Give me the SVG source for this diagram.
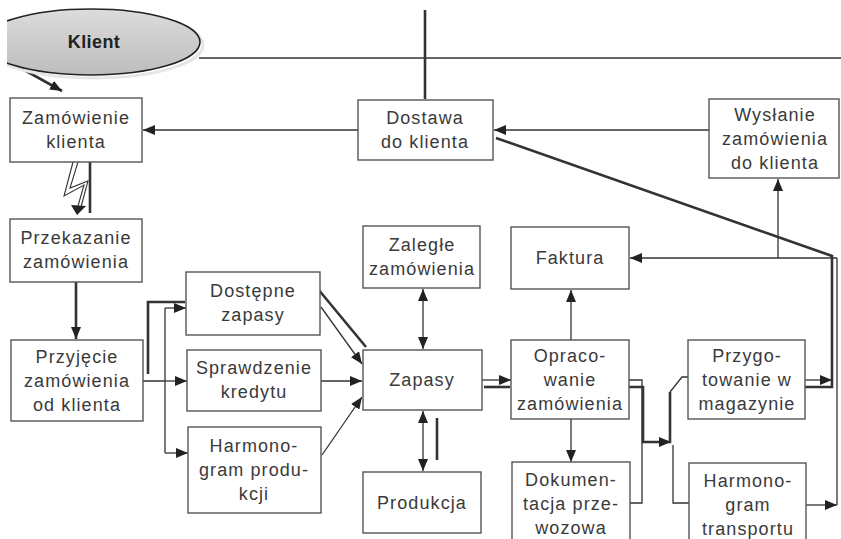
<svg xmlns="http://www.w3.org/2000/svg" width="841" height="539" viewBox="0 0 841 539">
<style>
.box{fill:#fff;stroke:#555;stroke-width:1.4}
.t{font-family:"Liberation Sans",Arial,sans-serif;font-size:18px;letter-spacing:1.1px;fill:#3a3a3a;text-anchor:middle}
.kt{font-family:"Liberation Sans",Arial,sans-serif;font-size:18px;font-weight:bold;letter-spacing:0.4px;fill:#222;text-anchor:middle}
.ln{fill:none;stroke:#333;stroke-width:1.3}
.th{fill:none;stroke:#333;stroke-width:2.6}
.a{marker-end:url(#arr)}
.d{marker-start:url(#arr);marker-end:url(#arr)}
</style>
<defs>
<marker id="arr" markerUnits="userSpaceOnUse" markerWidth="12" markerHeight="10" refX="12" refY="5" orient="auto-start-reverse">
<path d="M0,0 L12,5 L0,10 z" fill="#222"/>
</marker>
<linearGradient id="kg" x1="0" y1="0" x2="0" y2="1">
<stop offset="0" stop-color="#dcdcdc"/>
<stop offset="1" stop-color="#bdbdbd"/>
</linearGradient>
<clipPath id="kc"><rect x="7" y="0" width="300" height="120"/></clipPath>
</defs>

<g id="connectors">
<path class="ln" d="M199,58 H841"/>
<path class="th" d="M425,10 V99"/>
<path class="th a" d="M10,62 L62,91"/>
<path class="ln a" d="M358,130 H143"/>
<path class="ln a" d="M709,130 H494"/>
<path class="th" d="M496,138 L832,256 V387 H797"/>
<path class="ln a" d="M805,380 H832"/>
<path class="ln" d="M837,258 V505"/>
<path class="ln a" d="M806,505 H837"/>
<path class="ln a" d="M837,258 H630"/>
<path class="ln a" d="M778,258 V179"/>
<path class="ln a" d="M571,340 V290"/>
<path class="ln a" d="M571,419 V462"/>
<path class="ln" d="M629,380 H642 V503 H630"/>
<path class="th a" d="M617,387 H643 V442 H671"/>
<path class="th" d="M670,443 V392"/>
<path class="ln" d="M670,392 L682,377 H688"/>
<path class="ln" d="M673,445 V503 H689"/>
<path class="ln a" d="M482,380 H511"/>
<path class="th" d="M484,387 H510"/>
<path class="ln d" d="M423,289 V349"/>
<path class="ln d" d="M423,411 V471"/>
<path class="th" d="M437,418 V460"/>
<path class="th a" d="M76,282 V339"/>
<path class="th" d="M90,155 V213"/>
<path fill="none" stroke="#333" stroke-width="1.1" d="M73,162 L64,196 L84,185 L78,206 M78,162 L70,188 L88,181 L81,207"/>
<path fill="#222" d="M71,205 L86,206 L77,215 z"/>
<path class="ln" d="M143,381 H165 M165,308 V453"/>
<path class="ln a" d="M165,308 H186"/>
<path class="ln a" d="M165,381 H187"/>
<path class="ln a" d="M165,453 H188"/>
<path class="th" d="M148,374 V302 H185"/>
<path class="ln a" d="M321,307 L362,364"/>
<path class="th" d="M318,289 L366,347"/>
<path class="ln a" d="M321,381 H362"/>
<path class="ln a" d="M322,455 L362,397"/>
</g>

<g id="klient">
<g clip-path="url(#kc)">
<ellipse cx="94" cy="45" rx="109" ry="33" fill="none" stroke="#e6e6e6" stroke-width="3"/>
<ellipse cx="91" cy="42" rx="109" ry="33" fill="url(#kg)" stroke="#222" stroke-width="1.6"/>
</g>
<text class="kt" x="94" y="48">Klient</text>
</g>

<g id="zamowienie-klienta">
<rect class="box" x="10" y="98" width="132" height="64"/>
<text class="t" x="76" y="124">Zamówienie</text>
<text class="t" x="76" y="148">klienta</text>
</g>

<g id="przekazanie">
<rect class="box" x="10" y="219" width="132" height="63"/>
<text class="t" x="76" y="244">Przekazanie</text>
<text class="t" x="76" y="268">zamówienia</text>
</g>

<g id="przyjecie">
<rect class="box" x="11" y="340" width="132" height="81"/>
<text class="t" x="77" y="363">Przyjęcie</text>
<text class="t" x="77" y="387">zamówienia</text>
<text class="t" x="77" y="411">od klienta</text>
</g>

<g id="dostawa">
<rect class="box" x="358" y="100" width="135" height="60"/>
<text class="t" x="425" y="124">Dostawa</text>
<text class="t" x="425" y="148">do klienta</text>
</g>

<g id="wyslanie">
<rect class="box" x="709" y="99" width="130" height="79"/>
<text class="t" x="775" y="121">Wysłanie</text>
<text class="t" x="775" y="145">zamówienia</text>
<text class="t" x="775" y="169">do klienta</text>
</g>

<g id="dostepne-zapasy">
<rect class="box" x="186" y="272" width="134" height="63"/>
<text class="t" x="253" y="297">Dostępne</text>
<text class="t" x="253" y="321">zapasy</text>
</g>

<g id="sprawdzenie-kredytu">
<rect class="box" x="187" y="350" width="134" height="61"/>
<text class="t" x="254" y="374">Sprawdzenie</text>
<text class="t" x="254" y="398">kredytu</text>
</g>

<g id="harmonogram-produkcji">
<rect class="box" x="188" y="427" width="133" height="86"/>
<text class="t" x="254" y="452">Harmono-</text>
<text class="t" x="254" y="476">gram produ-</text>
<text class="t" x="254" y="500">kcji</text>
</g>

<g id="zalegle">
<rect class="box" x="363" y="226" width="117" height="62"/>
<text class="t" x="422" y="251">Zaległe</text>
<text class="t" x="422" y="275">zamówienia</text>
</g>

<g id="zapasy">
<rect class="box" x="363" y="350" width="119" height="60"/>
<text class="t" x="422" y="386">Zapasy</text>
</g>

<g id="produkcja">
<rect class="box" x="363" y="472" width="118" height="61"/>
<text class="t" x="422" y="509">Produkcja</text>
</g>

<g id="faktura">
<rect class="box" x="511" y="227" width="118" height="62"/>
<text class="t" x="570" y="264">Faktura</text>
</g>

<g id="opracowanie">
<rect class="box" x="511" y="340" width="118" height="79"/>
<text class="t" x="570" y="362">Opraco-</text>
<text class="t" x="570" y="386">wanie</text>
<text class="t" x="570" y="410">zamówienia</text>
</g>

<g id="dokumentacja">
<rect class="box" x="512" y="462" width="118" height="84"/>
<text class="t" x="571" y="486">Dokumen-</text>
<text class="t" x="571" y="510">tacja prze-</text>
<text class="t" x="571" y="534">wozowa</text>
</g>

<g id="przygotowanie">
<rect class="box" x="688" y="340" width="117" height="79"/>
<text class="t" x="747" y="362">Przygo-</text>
<text class="t" x="747" y="386">towanie w</text>
<text class="t" x="747" y="410">magazynie</text>
</g>

<g id="harmonogram-transportu">
<rect class="box" x="689" y="463" width="117" height="84"/>
<text class="t" x="748" y="487">Harmono-</text>
<text class="t" x="748" y="511">gram</text>
<text class="t" x="748" y="535">transportu</text>
</g>
</svg>
